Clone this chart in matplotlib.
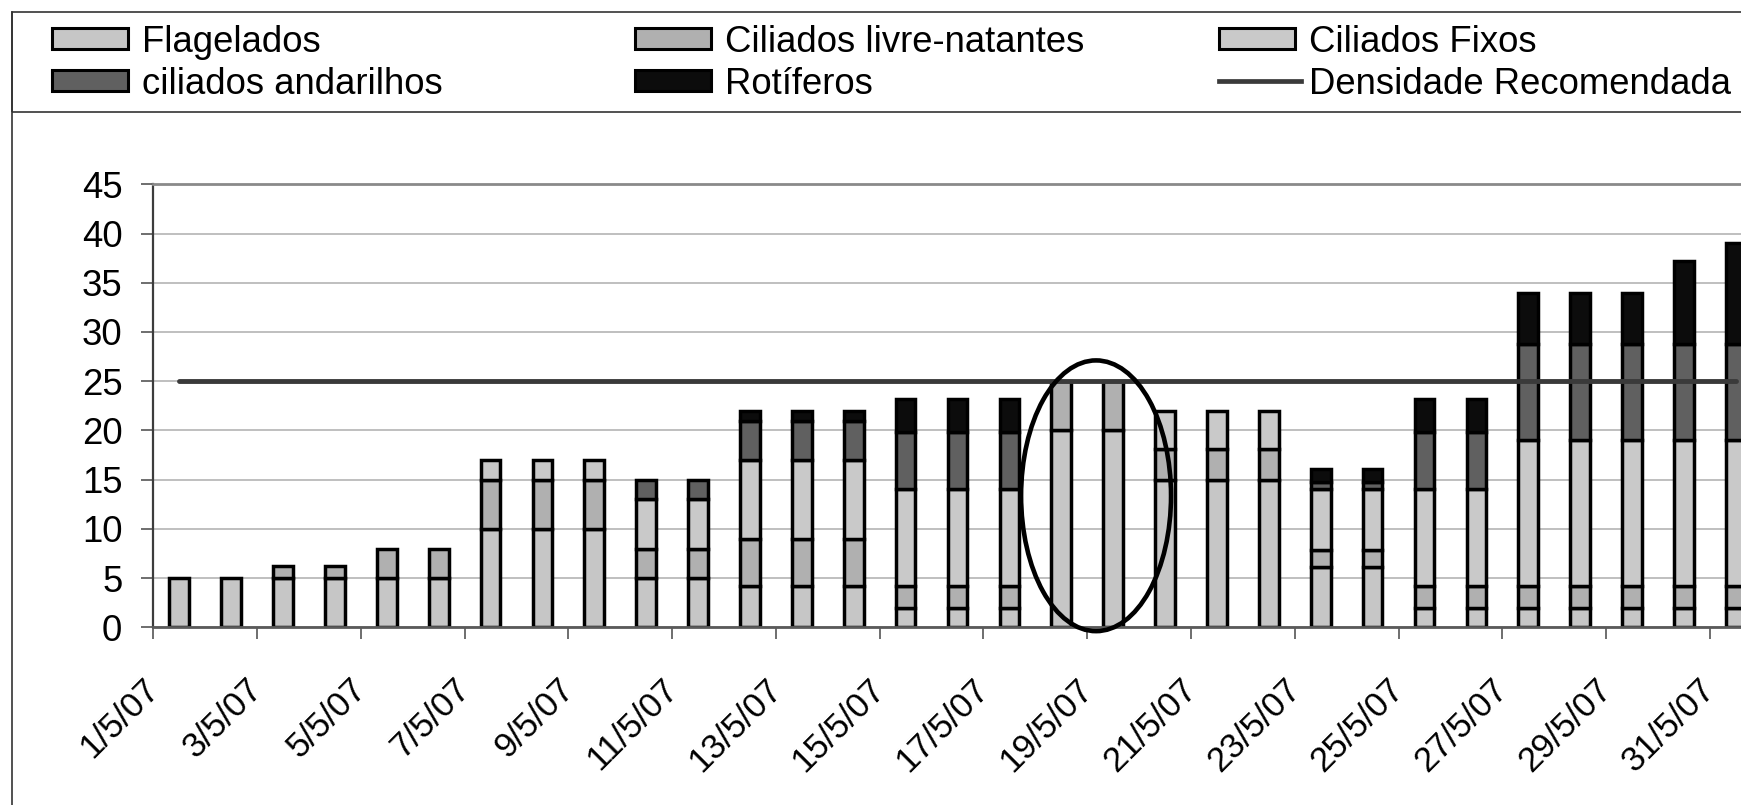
import matplotlib
matplotlib.use("Agg")
import matplotlib.pyplot as plt
import matplotlib.transforms as mtransforms
import numpy as np
from matplotlib.patches import Ellipse, Rectangle
from matplotlib.lines import Line2D

# ---- data: daily density per group (May 2007) ----
days = list(range(1, 32))
flagelados = [5, 5, 5, 5, 5, 5, 10, 10, 10, 5, 5, 4.2, 4.2, 4.2, 2, 2, 2,
              20, 20, 15, 15, 15, 6.1, 6.1, 2, 2, 2, 2, 2, 2, 2]
livre_natantes = [0, 0, 1.2, 1.2, 3, 3, 5, 5, 5, 3, 3, 4.8, 4.8, 4.8, 2.2, 2.2, 2.2,
                  5, 5, 3.1, 3.1, 3.1, 1.8, 1.8, 2.2, 2.2, 2.2, 2.2, 2.2, 2.2, 2.2]
fixos = [0, 0, 0, 0, 0, 0, 2, 2, 2, 5, 5, 8, 8, 8, 9.8, 9.8, 9.8,
         0, 0, 3.9, 3.9, 3.9, 6.1, 6.1, 9.8, 9.8, 14.8, 14.8, 14.8, 14.8, 14.8]
andarilhos = [0, 0, 0, 0, 0, 0, 0, 0, 0, 2, 2, 4, 4, 4, 5.8, 5.8, 5.8,
              0, 0, 0, 0, 0, 0.8, 0.8, 5.8, 5.8, 9.8, 9.8, 9.8, 9.8, 9.8]
rotiferos = [0, 0, 0, 0, 0, 0, 0, 0, 0, 0, 0, 1, 1, 1, 3.4, 3.4, 3.4,
             0, 0, 0, 0, 0, 1.3, 1.3, 3.4, 3.4, 5.2, 5.2, 5.2, 8.4, 10.2]
densidade_recomendada = 25

series_names = ["Flagelados", "Ciliados livre-natantes", "Ciliados Fixos",
                "ciliados andarilhos", "Rotíferos"]
series_values = [flagelados, livre_natantes, fixos, andarilhos, rotiferos]
series_colors = ["#c6c6c6", "#b0b0b0", "#c9c9c9", "#606060", "#0c0c0c"]
line_name = "Densidade Recomendada"

tick_labels = ["1/5/07", "3/5/07", "5/5/07", "7/5/07", "9/5/07", "11/5/07",
               "13/5/07", "15/5/07", "17/5/07", "19/5/07", "21/5/07", "23/5/07",
               "25/5/07", "27/5/07", "29/5/07", "31/5/07"]

# ---- figure ----
W, H, DPI = 1741, 805, 100
plt.rcParams["font.family"] = ["Liberation Sans", "DejaVu Sans"]
FS = 26.3

fig = plt.figure(figsize=(W / DPI, H / DPI), dpi=DPI)
fig.patch.set_facecolor("white")

ax_left, ax_top, ax_bottom = 153.3, 184.3, 627.3
ax = fig.add_axes([ax_left / W, (H - ax_bottom) / H, 1 - ax_left / W,
                   (ax_bottom - ax_top) / H])

x = np.arange(len(days), dtype=float)
bottom = np.zeros(len(days))
bar_w = 0.38
for vals, color in zip(series_values, series_colors):
    v = np.asarray(vals, dtype=float)
    m = v > 0
    ax.bar(x[m], v[m], bottom=bottom[m], width=bar_w, color=color,
           edgecolor="black", linewidth=2.5, zorder=2)
    bottom += v

ax.plot([x[0], x[-1]], [densidade_recomendada] * 2, color="#3a3a3a",
        lw=3.5, solid_capstyle="round", zorder=4)

# highlight around 18-19 May
ax.add_patch(Ellipse((17.67, 13.36), 2.89, 27.5, fill=False, edgecolor="black",
                     lw=3.3, clip_on=False, zorder=5))

ax.set_xlim(-0.5, 30.1)
ax.set_ylim(0, 45)
ax.set_yticks(np.arange(0, 50, 5))
ax.yaxis.grid(True, color="#b4b4b4", lw=1.2)
ax.set_axisbelow(True)

ax.spines["right"].set_visible(False)
ax.spines["top"].set_color("#8a8a8a")
ax.spines["top"].set_linewidth(2.0)
ax.spines["left"].set_color("#3c3c3c")
ax.spines["left"].set_linewidth(1.6)
ax.spines["bottom"].set_color("#5a5a5a")
ax.spines["bottom"].set_linewidth(2.0)

ax.tick_params(axis="y", direction="out", length=8.6, width=1.2, color="#555555",
               labelsize=FS, pad=13.7)
ax.set_xticks(np.arange(-0.5, 30, 2))
ax.set_xticklabels(tick_labels, rotation=45, ha="right", va="top")
ax.tick_params(axis="x", direction="out", length=8.6, width=1.2, color="#555555",
               labelsize=25, pad=24)
shift = mtransforms.ScaledTranslation(12 / DPI, 0, fig.dpi_scale_trans)
for lab in ax.get_xticklabels():
    lab.set_transform(lab.get_transform() + shift)

# ---- legend box drawn in figure pixels ----
def fx(px):
    return px / W


def fy(py):
    return 1 - py / H


fig.add_artist(Line2D([fx(12), fx(12)], [0, fy(11.7)], color="#333333", lw=1.2))
fig.add_artist(Rectangle((fx(12), fy(111.7)), 1.0, (111.7 - 11.7) / H,
                         transform=fig.transFigure, fill=False,
                         edgecolor="#333333", lw=1.2))

col_x0, col_step = 51.7, 583.7
row_mid0, row_step = 38.8, 42.0
patch_w, patch_h = 76, 21
entries = series_names + [line_name]
order = [(0, 0), (1, 0), (2, 0), (0, 1), (1, 1), (2, 1)]
for i, (name, (c, r)) in enumerate(zip(entries, order)):
    px = col_x0 + c * col_step
    pm = row_mid0 + r * row_step
    if i < len(series_names):
        fig.add_artist(Rectangle((fx(px), fy(pm + patch_h / 2)), patch_w / W, patch_h / H,
                                 transform=fig.transFigure, facecolor=series_colors[i],
                                 edgecolor="black", lw=2.2))
    else:
        fig.add_artist(Line2D([fx(px), fx(px + 82)], [fy(pm), fy(pm)],
                              color="#3a3a3a", lw=3.4))
    fig.text(fx(px + 90), fy(pm), name, fontsize=FS, va="center_baseline",
             ha="left", color="black")

fig.savefig("out.png", dpi=DPI, facecolor="white")
